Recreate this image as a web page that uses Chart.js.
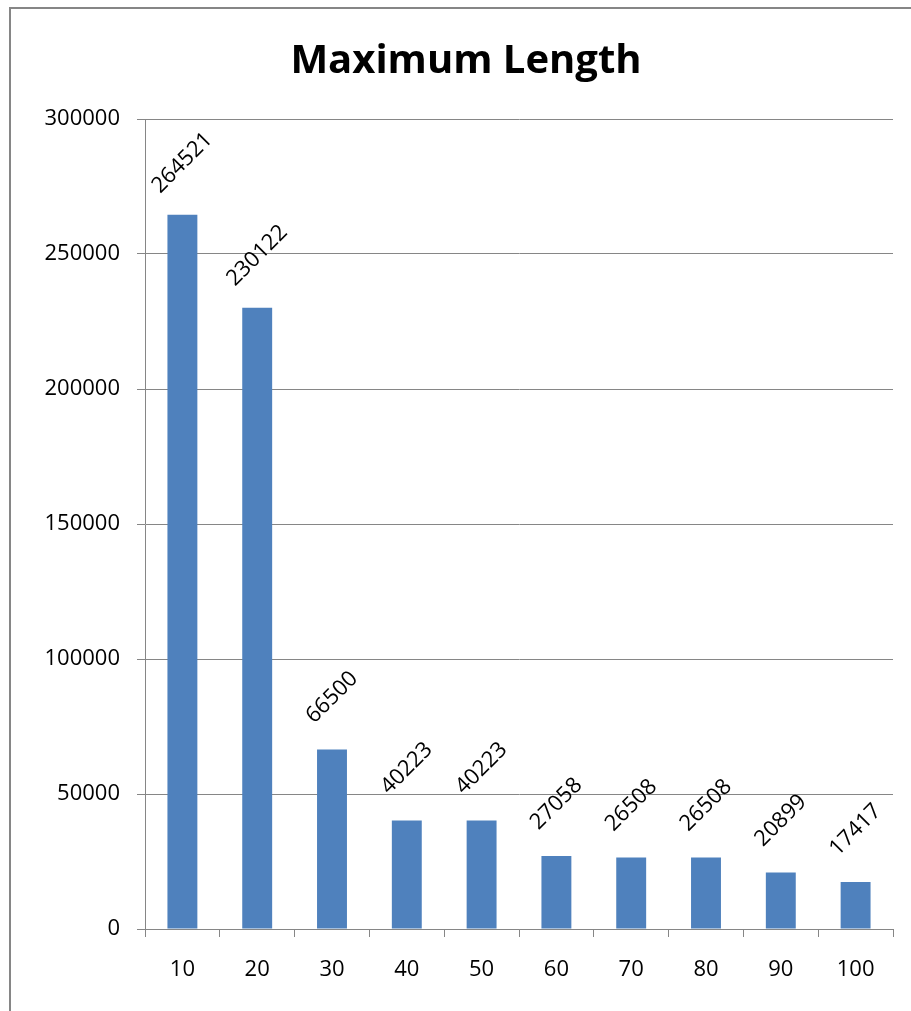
<!DOCTYPE html>
<html>
<head>
<meta charset="utf-8">
<script src="https://cdn.jsdelivr.net/npm/chart.js@4"></script>
<style>
    html, body { margin: 0; padding: 0; background: #ffffff; }
    #wrap { width: 911px; height: 1011px; }
</style>
</head>
<body>
<div id="wrap"><canvas id="lengthChart"></canvas></div>
<script>
// values
const categories = ['10', '20', '30', '40', '50', '60', '70', '80', '90', '100'];
const maxLength = [264521, 230122, 66500, 40223, 40223, 27058, 26508, 26508, 20899, 17417];
const yTicks = [0, 50000, 100000, 150000, 200000, 250000, 300000];
const chartTitle = 'Maximum Length';

const fontFamily = '"Open Sans", "Liberation Sans", sans-serif';
const gridGrey = '#868686';

// outer frame and title, placed like the spreadsheet chart
const framePlugin = {
    id: 'frame',
    beforeDraw(chart) {
        const ctx = chart.ctx;
        ctx.save();
        ctx.strokeStyle = gridGrey;
        ctx.lineWidth = 2;
        ctx.beginPath();
        ctx.moveTo(10, chart.height + 5);
        ctx.lineTo(10, 8);
        ctx.lineTo(chart.width + 5, 8);
        ctx.stroke();

        ctx.fillStyle = '#000000';
        ctx.font = 'bold 40px ' + fontFamily;
        ctx.textAlign = 'center';
        ctx.textBaseline = 'alphabetic';
        ctx.fillText(chartTitle, 466, 73);
        ctx.restore();
    }
};

// rotated value labels above each bar
const valueLabels = {
    id: 'valueLabels',
    afterDatasetsDraw(chart) {
        const ctx = chart.ctx;
        const meta = chart.getDatasetMeta(0);
        ctx.save();
        ctx.fillStyle = '#000000';
        ctx.font = '22px ' + fontFamily;
        ctx.textAlign = 'center';
        ctx.textBaseline = 'middle';
        meta.data.forEach(function(bar, i) {
            ctx.save();
            ctx.translate(bar.x, bar.y - 52);
            ctx.rotate(-Math.PI / 4);
            ctx.fillText(String(maxLength[i]), 0, 0);
            ctx.restore();
        });
        ctx.restore();
    }
};

const ctx = document.getElementById('lengthChart').getContext('2d');
new Chart(ctx, {
    type: 'bar',
    data: {
        labels: categories,
        datasets: [{
            label: chartTitle,
            data: maxLength,
            backgroundColor: '#4F81BD',
            barPercentage: 0.4,
            categoryPercentage: 1.0
        }]
    },
    options: {
        responsive: true,
        maintainAspectRatio: false,
        animation: false,
        layout: {
            padding: { left: 0, right: 18, top: 119, bottom: 0 }
        },
        plugins: {
            legend: { display: false },
            tooltip: { enabled: false },
            title: { display: false }
        },
        scales: {
            y: {
                min: 0,
                max: 300000,
                afterBuildTicks: function(scale) {
                    scale.ticks = yTicks.map(v => ({ value: v }));
                },
                afterFit: function(scale) { scale.width = 145; },
                grid: {
                    color: gridGrey,
                    lineWidth: 1,
                    drawTicks: true,
                    tickLength: 8
                },
                border: { display: true, color: gridGrey, width: 1 },
                ticks: {
                    color: '#000000',
                    padding: 17,
                    font: { family: fontFamily, size: 22 },
                    callback: function(value) { return String(value); }
                }
            },
            x: {
                afterFit: function(scale) { scale.height = 82; },
                grid: {
                    display: true,
                    drawOnChartArea: false,
                    drawTicks: true,
                    tickLength: 8,
                    color: gridGrey,
                    offset: true
                },
                border: { display: true, color: gridGrey, width: 1 },
                ticks: {
                    color: '#000000',
                    padding: 20,
                    maxRotation: 0,
                    font: { family: fontFamily, size: 22 }
                }
            }
        }
    },
    plugins: [framePlugin, valueLabels]
});
</script>
</body>
</html>
